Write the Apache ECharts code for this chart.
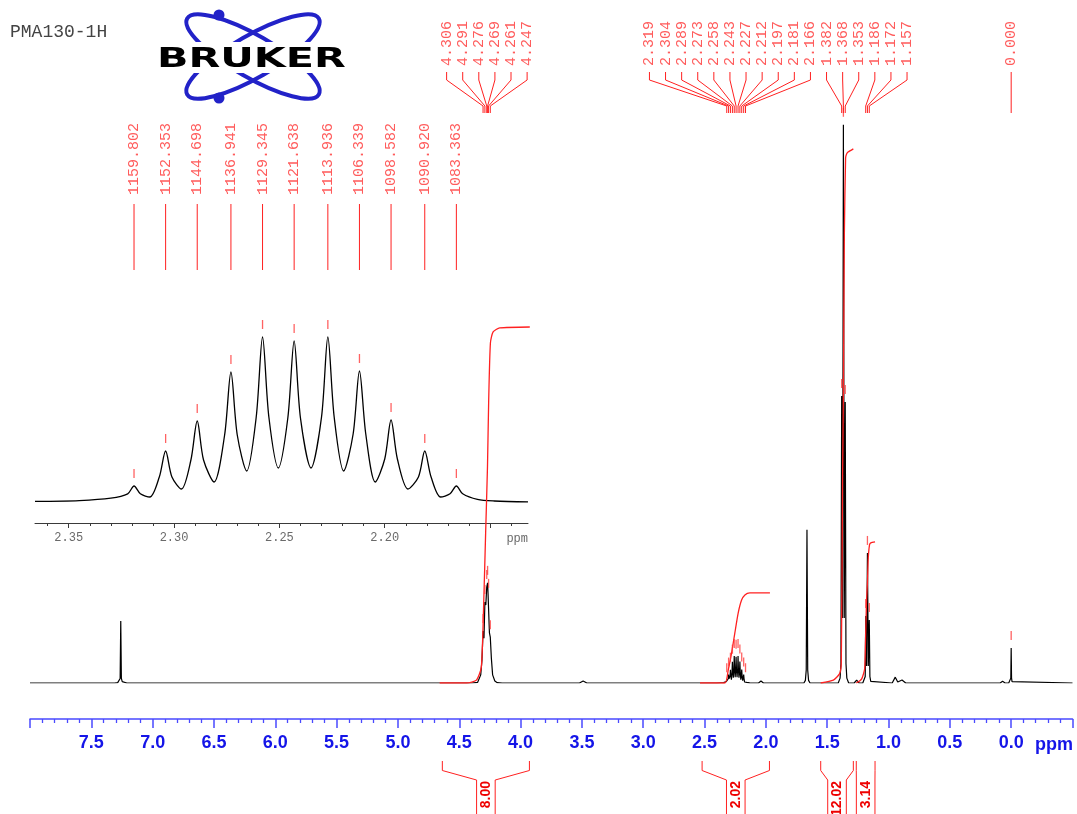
<!DOCTYPE html>
<html><head><meta charset="utf-8">
<script src="https://cdn.jsdelivr.net/npm/echarts@6/dist/echarts.min.js"></script>
<style>html,body{margin:0;padding:0;background:#fff}#c{width:1077px;height:814px}</style>
</head><body><div id="c"></div>
<script>
// ---------------- data ----------------
// picked peaks (ppm), label clusters at the top
const peakLabelsA = [4.306, 4.291, 4.276, 4.269, 4.261, 4.247];
const peakLabelsB = [2.319, 2.304, 2.289, 2.273, 2.258, 2.243, 2.227, 2.212, 2.197, 2.181, 2.166,
                     1.382, 1.368, 1.353, 1.186, 1.172, 1.157];
const peakLabelsC = [0.000];

// inset multiplet: peak positions (ppm) and their Hz labels
const insetPeakPpm = [2.319, 2.304, 2.289, 2.273, 2.258, 2.243, 2.227, 2.212, 2.197, 2.181, 2.166];
const insetPeakHz = ['1159.802','1152.353','1144.698','1136.941','1129.345','1121.638',
                     '1113.936','1106.339','1098.582','1090.920','1083.363'];

// trace of the 2.24 ppm multiplet [ppm, intensity]
const multipletTrace = [
  [2.366,0.8],[2.345,1.2],[2.330,2.4],
  [2.322,4.6],[2.319,8.5],[2.316,4.6],[2.3115,3.0],
  [2.307,13],[2.304,26],[2.301,13],[2.2965,7.0],
  [2.292,21.5],[2.289,41],[2.286,21.5],[2.281,10.5],
  [2.276,34],[2.273,65.5],[2.270,34],[2.2655,16],
  [2.261,43],[2.258,83],[2.255,43],[2.2505,17.5],
  [2.246,42.5],[2.243,81],[2.240,42.5],[2.235,17.5],
  [2.230,43],[2.227,83],[2.224,43],[2.2195,16],
  [2.215,34.5],[2.212,66],[2.209,34.5],[2.2045,10.5],
  [2.200,22],[2.197,41.5],[2.194,22],[2.189,7.0],
  [2.184,13],[2.181,26],[2.178,13],[2.1735,3.0],
  [2.169,4.6],[2.166,8.5],[2.163,4.6],
  [2.156,1.8],[2.148,1.0],[2.132,0.6]
];

// main spectrum pieces [ppm, intensity]
const traceSolvent = [[8.00,0],[7.31,0],[7.285,1],[7.272,4],[7.265,14],[7.26,191],[7.255,14],[7.248,4],[7.235,1],[7.21,0]];
const traceOCH2 = [[4.40,0],[4.35,2],[4.335,8],[4.325,25],[4.315,70],[4.306,160],[4.2985,138],[4.291,249],[4.2835,240],
                   [4.276,295],[4.2725,292],[4.269,308],[4.265,271],[4.261,268],[4.254,154],[4.247,141],
                   [4.238,75],[4.228,25],[4.21,6],[4.19,1],[4.15,0]];
const traceMinorA = [[3.52,0],[3.49,6],[3.46,0]];
const traceCHedges = [[2.40,0],[2.10,0]];
const traceMinorB = [[2.06,0],[2.04,6],[2.02,0]];
const traceWater = [[1.69,0],[1.678,8],[1.671,40],[1.665,471],[1.659,40],[1.652,8],[1.64,0]];
const traceCH3a = [[1.41,0],[1.395,15],[1.388,60],[1.382,883],[1.375,200],[1.368,1717],[1.361,200],[1.353,864],[1.347,60],[1.34,15],[1.325,0]];
const traceMinorC = [[1.28,0],[1.26,9],[1.24,0]];
const traceCH3b = [[1.21,0],[1.197,5],[1.19,20],[1.186,206],[1.179,52],[1.172,400],[1.165,52],[1.157,194],[1.152,20],[1.145,5],[1.13,0]];
const traceMinorD = [[0.97,0],[0.945,18],[0.925,3],[0.89,9],[0.86,0]];
const traceTMS = [[0.09,0],[0.07,5],[0.05,0],[0.02,0],[0.007,4],[0.003,15],[0.000,108],[-0.003,15],[-0.007,4],[-0.02,0],[-0.50,0]];

// integral curves [ppm, cumulative intensity]
const integralOCH2 = [[4.66,0],[4.44,0],[4.36,9],[4.32,49],[4.30,255],[4.285,461],[4.27,664],[4.26,871],[4.246,1046],[4.224,1080],[4.17,1092],[3.925,1095]];
const integralCH = [[2.537,0],[2.334,0],[2.307,40],[2.280,92],[2.253,154],[2.226,215],[2.198,255],[2.171,271],[2.131,277],[1.967,277]];
const integralCH3a = [[1.553,0],[1.45,9],[1.40,28],[1.385,62],[1.375,615],[1.368,892],[1.36,1384],[1.35,1615],[1.342,1627],[1.33,1633],[1.287,1643]];
const integralCH3b = [[1.263,0],[1.22,12],[1.195,43],[1.188,123],[1.18,246],[1.172,308],[1.165,385],[1.155,425],[1.145,431],[1.11,434]];

// integration regions and values
const integralFrom = [4.638, 2.52, 1.553, 1.263];
const integralTo   = [3.928, 1.971, 1.287, 1.110];
const integralText = ['8.00', '2.02', '12.02', '3.14'];

// axis ticks of the inset
const insetMajorTicks = [2.35, 2.30, 2.25, 2.20, 2.15];
const insetTickLabels = [2.35, 2.30, 2.25, 2.20];
const insetMinorTicks = [2.36, 2.34, 2.33, 2.32, 2.31, 2.29, 2.28, 2.27, 2.26, 2.24, 2.23, 2.22, 2.21, 2.19, 2.18, 2.17, 2.16, 2.14];

// ---------------- build ----------------
const mainTrace = [].concat(traceSolvent, traceOCH2, traceMinorA, [traceCHedges[0]], multipletTrace, [traceCHedges[1]],
  traceMinorB, traceWater, traceCH3a, traceMinorC, traceCH3b, traceMinorD, traceTMS);

function heightAt(trace, ppm) {
  const p = trace.find(d => Math.abs(d[0] - ppm) < 1e-9);
  return p ? p[1] : 0;
}
const groups = [peakLabelsA, peakLabelsB, peakLabelsC];
const groupMean = groups.map(g => g.reduce((a, b) => a + b, 0) / g.length);
const labelItems = [];
groups.forEach((g, gi) => g.forEach((p, k) => labelItems.push([p, 0, gi, k])));
const mainMarkers = [].concat(...groups).map(p => [p, heightAt(mainTrace, p)]);
const insetMarkers = insetPeakPpm.map(p => [p, heightAt(multipletTrace, p)]);
const insetLabelItems = insetPeakPpm.map((p, i) => [p, 0, i]);
const bracketItems = integralFrom.map((f, i) => [(f + integralTo[i]) / 2, 0, i]);

const RED = '#ff2020';
const LABEL_STEP = 16.1;
const monoFont = '"Liberation Mono", "DejaVu Sans Mono", monospace';

function renderPeakLabel(params, api) {
  const ppm = api.value(0), gi = api.value(2), k = api.value(3);
  const px = api.coord([ppm, 0])[0];
  const n = groups[gi].length;
  const lx = api.coord([groupMean[gi], 0])[0] + (k - (n - 1) / 2) * LABEL_STEP;
  return { type: 'group', children: [
    { type: 'text', x: lx, y: 66, rotation: Math.PI / 2,
      style: { text: ppm.toFixed(3), font: '15px ' + monoFont, fill: '#ff5c5c',
               align: 'left', textAlign: 'left', verticalAlign: 'middle', textVerticalAlign: 'middle' } },
    { type: 'polyline', shape: { points: [[lx, 72], [lx, 80], [px, 106], [px, 113]] },
      style: { stroke: RED, lineWidth: 1, fill: null } }
  ]};
}
function renderInsetLabel(params, api) {
  const i = api.value(2);
  const px = api.coord([api.value(0), 0])[0];
  return { type: 'group', children: [
    { type: 'text', x: px, y: 195, rotation: Math.PI / 2,
      style: { text: insetPeakHz[i], font: '15px ' + monoFont, fill: '#ff5c5c',
               align: 'left', textAlign: 'left', verticalAlign: 'middle', textVerticalAlign: 'middle' } },
    { type: 'line', shape: { x1: px, y1: 204, x2: px, y2: 270 }, style: { stroke: RED, lineWidth: 1 } }
  ]};
}
function renderBracket(params, api) {
  const i = api.value(2);
  const x1 = api.coord([integralFrom[i], 0])[0];
  const x2 = api.coord([integralTo[i], 0])[0];
  const xc = (x1 + x2) / 2, a = xc - 9.3, b = xc + 9.3;
  return { type: 'group', children: [
    { type: 'polyline', shape: { points: [[x1, 761], [x1, 770.5], [a, 780], [a, 815]] }, style: { stroke: RED, lineWidth: 1, fill: null } },
    { type: 'polyline', shape: { points: [[x2, 761], [x2, 770.5], [b, 780], [b, 815]] }, style: { stroke: RED, lineWidth: 1, fill: null } },
    { type: 'text', x: xc, y: 781, rotation: Math.PI / 2,
      style: { text: integralText[i], font: 'bold 14px "Liberation Sans", Arial, sans-serif', fill: '#ee0000',
               align: 'right', textAlign: 'right', verticalAlign: 'middle', textVerticalAlign: 'middle' } }
  ]};
}

const BLUE_LINE = '#4a4aff';
const BLUE_TEXT = '#1515e8';
const chart = echarts.init(document.getElementById('c'), null, { renderer: 'canvas' });
chart.setOption({
  animation: false,
  backgroundColor: '#ffffff',
  grid: [
    { left: 30, right: 4.5, top: 103, bottom: 131, outerBoundsMode: 'none', containLabel: false },
    { left: 35, right: 549, top: 303, bottom: 311, outerBoundsMode: 'none', containLabel: false }
  ],
  xAxis: [
    { type: 'value', gridIndex: 0, min: -0.5, max: 8, interval: 0.5, inverse: true, position: 'bottom', offset: 36,
      axisLine: { show: true, onZero: false, lineStyle: { color: BLUE_LINE, width: 1.5 } },
      axisTick: { show: true, length: 9, lineStyle: { color: BLUE_LINE, width: 1.5 } },
      minorTick: { show: true, splitNumber: 5, length: 4, lineStyle: { color: BLUE_LINE, width: 1.3 } },
      splitLine: { show: false }, minorSplitLine: { show: false },
      axisLabel: { margin: 15, color: BLUE_TEXT, fontFamily: '"Liberation Sans", Arial, sans-serif', fontWeight: 'bold', fontSize: 18,
                   formatter: v => (v > 7.9 || v < -0.1) ? '' : v.toFixed(1) } },
    { type: 'value', gridIndex: 1, min: 2.132, max: 2.366, inverse: true, position: 'bottom', offset: 20,
      axisLine: { show: true, onZero: false, lineStyle: { color: '#3a3a3a', width: 1 } },
      axisTick: { show: true, length: 5, customValues: insetMajorTicks, lineStyle: { color: '#3a3a3a', width: 1 } },
      splitLine: { show: false },
      axisLabel: { margin: 9, customValues: insetTickLabels, color: '#6a6a6a', fontFamily: monoFont, fontSize: 12,
                   formatter: v => v.toFixed(2) } },
    { type: 'value', gridIndex: 1, min: 2.132, max: 2.366, inverse: true, position: 'bottom', offset: 20,
      axisLine: { show: false, onZero: false },
      axisTick: { show: true, length: 3, customValues: insetMinorTicks, lineStyle: { color: '#3a3a3a', width: 1 } },
      splitLine: { show: false }, axisLabel: { show: false } }
  ],
  yAxis: [
    { type: 'value', gridIndex: 0, min: 0, max: 1784, show: false, splitLine: { show: false } },
    { type: 'value', gridIndex: 1, min: 0, max: 100, show: false, splitLine: { show: false } }
  ],
  series: [
    { type: 'line', xAxisIndex: 0, yAxisIndex: 0, data: mainTrace, showSymbol: false, silent: true, z: 2,
      lineStyle: { color: '#000', width: 1.2 } },
    ...[integralOCH2, integralCH, integralCH3a, integralCH3b].map(d => ({
      type: 'line', xAxisIndex: 0, yAxisIndex: 0, data: d, showSymbol: false, silent: true, z: 3, smooth: 0.2,
      lineStyle: { color: RED, width: 1.3 } })),
    { type: 'scatter', xAxisIndex: 0, yAxisIndex: 0, data: mainMarkers, symbol: 'rect', symbolSize: [1.3, 9],
      symbolOffset: [0, -12.5], itemStyle: { color: '#ff3b3b' }, silent: true, z: 4 },
    { type: 'custom', xAxisIndex: 0, yAxisIndex: 0, data: labelItems, renderItem: renderPeakLabel, silent: true, z: 5 },
    { type: 'custom', xAxisIndex: 0, yAxisIndex: 0, data: bracketItems, renderItem: renderBracket, silent: true, z: 5 },
    { type: 'line', xAxisIndex: 1, yAxisIndex: 1, data: multipletTrace, showSymbol: false, silent: true, smooth: 0.3, z: 2,
      lineStyle: { color: '#000', width: 1.3 } },
    { type: 'scatter', xAxisIndex: 1, yAxisIndex: 1, data: insetMarkers, symbol: 'rect', symbolSize: [1.3, 9],
      symbolOffset: [0, -12.5], itemStyle: { color: '#ff3b3b' }, silent: true, z: 4 },
    { type: 'custom', xAxisIndex: 1, yAxisIndex: 1, data: insetLabelItems, renderItem: renderInsetLabel, silent: true, z: 5 }
  ],
  graphic: [
    { type: 'text', x: 10, y: 32, style: { text: 'PMA130-1H', font: '18px ' + monoFont, fill: '#444',
        align: 'left', textAlign: 'left', verticalAlign: 'middle', textVerticalAlign: 'middle' } },
    { type: 'ellipse', x: 253, y: 56.5, rotation: Math.PI / 6, shape: { cx: 0, cy: 0, rx: 76, ry: 21 },
      style: { fill: null, stroke: '#2222c8', lineWidth: 4 } },
    { type: 'ellipse', x: 253, y: 56.5, rotation: -Math.PI / 6, shape: { cx: 0, cy: 0, rx: 76, ry: 21 },
      style: { fill: null, stroke: '#2222c8', lineWidth: 4 } },
    { type: 'rect', shape: { x: 150, y: 42, width: 202, height: 31 }, style: { fill: '#fff' } },
    { type: 'circle', shape: { cx: 219, cy: 15, r: 5.5 }, style: { fill: '#2222c8' } },
    { type: 'circle', shape: { cx: 219, cy: 98, r: 5.5 }, style: { fill: '#2222c8' } },
    { type: 'text', x: 157, y: 60, scaleX: 1.53, style: { text: 'BRUKER', font: 'bold 27px "DejaVu Sans", sans-serif', fill: '#000',
        align: 'left', textAlign: 'left', verticalAlign: 'middle', textVerticalAlign: 'middle' } },
    { type: 'text', x: 1073, y: 745, style: { text: 'ppm', font: 'bold 18px "Liberation Sans", Arial, sans-serif', fill: BLUE_TEXT,
        align: 'right', textAlign: 'right', verticalAlign: 'middle', textVerticalAlign: 'middle' } },
    { type: 'text', x: 528, y: 539, style: { text: 'ppm', font: '12px ' + monoFont, fill: '#6a6a6a',
        align: 'right', textAlign: 'right', verticalAlign: 'middle', textVerticalAlign: 'middle' } }
  ]
});
</script></body></html>
